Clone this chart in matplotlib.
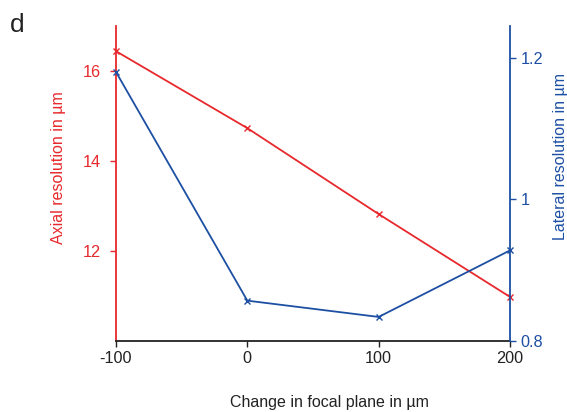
import matplotlib
matplotlib.use('Agg')
import matplotlib.pyplot as plt

plt.rcParams['font.family'] = ['Liberation Sans', 'DejaVu Sans']
plt.rcParams['axes.unicode_minus'] = False

focal_shift = [-100, 0, 100, 200]
axial_res = [16.44, 14.73, 12.82, 10.98]
lateral_res = [1.18, 0.857, 0.834, 0.928]

red = '#e8282c'
blue = '#1d4fa3'
dark = '#222222'

W, H = 567, 412
fig = plt.figure(figsize=(W / 100, H / 100), dpi=100)
ax = fig.add_axes([116 / W, 1 - 341 / H, (510 - 116) / W, (341 - 26) / H])
ax2 = ax.twinx()

ax.plot(focal_shift, axial_res, color=red, marker='x', markersize=4, lw=1.3, clip_on=False, zorder=3)
ax2.plot(focal_shift, lateral_res, color=blue, marker='x', markersize=4, lw=1.3, clip_on=False, zorder=3)

ax.set_xlim(-100, 200)
ax.set_ylim(10, 17)
ax2.set_ylim(0.8, 1.245)
ax.set_xticks([-100, 0, 100, 200])
ax.set_yticks([12, 14, 16])
ax2.set_yticks([0.8, 1, 1.2])
ax2.set_yticklabels(['0.8', '1', '1.2'])

for a in (ax, ax2):
    a.spines['top'].set_visible(False)
ax.spines['right'].set_visible(False)
ax2.spines['left'].set_visible(False)
ax2.spines['bottom'].set_visible(False)
ax.spines['left'].set_color(red)
ax.spines['left'].set_linewidth(1.3)
ax2.spines['right'].set_color(blue)
ax2.spines['right'].set_linewidth(1.3)
ax.spines['bottom'].set_color(dark)
ax.spines['bottom'].set_linewidth(1.3)

ax.tick_params(axis='x', colors=dark, labelsize=11.7, length=4, width=1)
ax.tick_params(axis='y', colors=red, labelsize=11.7, length=4, width=1, pad=7)
ax2.tick_params(axis='y', colors=blue, labelsize=11.7, length=4, width=1)

# axis titles placed by hand in figure pixels
fig.text(329 / W, 1 - 402 / H, 'Change in focal plane in µm', fontsize=11.5,
         color=dark, ha='center', va='center')
fig.text(59 / W, 1 - 168 / H, 'Axial resolution in µm', fontsize=11.5,
         color=red, ha='center', va='center', rotation=90)
fig.text(560 / W, 1 - 157 / H, 'Lateral resolution in µm', fontsize=11.5,
         color=blue, ha='center', va='center', rotation=90)

fig.text(10 / W, 1 - 32 / H, 'd', fontsize=19, color=dark, ha='left', va='baseline')

fig.savefig('out.png', dpi=100)
